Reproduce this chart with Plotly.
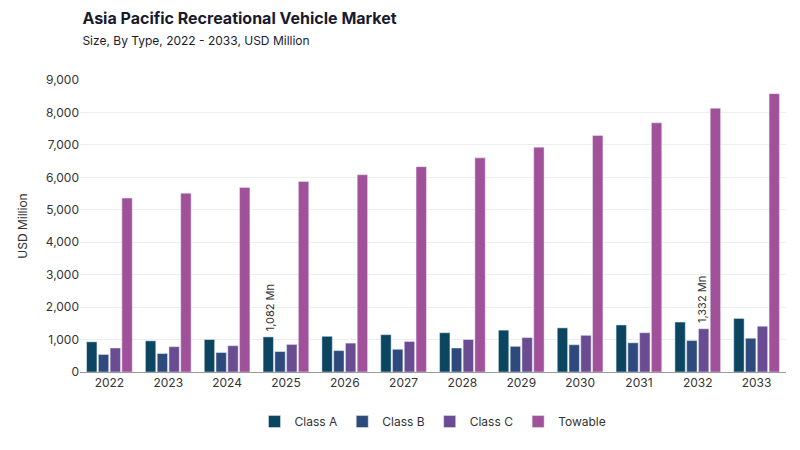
import plotly.graph_objects as go

years = [str(y) for y in range(2022, 2034)]
class_a = [930, 960, 1000, 1082, 1100, 1150, 1210, 1290, 1360, 1450, 1540, 1650]
class_b = [540, 570, 600, 630, 660, 700, 740, 790, 840, 900, 970, 1040]
class_c = [740, 780, 810, 850, 890, 940, 1000, 1060, 1130, 1210, 1332, 1410]
towable = [5360, 5510, 5690, 5870, 6080, 6330, 6600, 6930, 7290, 7680, 8130, 8580]

series = [
    ("Class A", class_a, "#0b4560"),
    ("Class B", class_b, "#2e4a7d"),
    ("Class C", class_c, "#6a4c93"),
    ("Towable", towable, "#a0519a"),
]

fig = go.Figure()
for name, vals, color in series:
    fig.add_trace(go.Bar(x=years, y=vals, name=name, marker_color=color))

# rotated value labels (category index positions)
fig.add_annotation(x=years.index("2025"), y=class_a[3], text="1,082 Mn", textangle=-90,
                   xshift=-16, yanchor="bottom", showarrow=False, yshift=4,
                   font=dict(size=11, color="#333"))
fig.add_annotation(x=years.index("2032"), y=class_c[10], text="1,332 Mn", textangle=-90,
                   xshift=5, yanchor="bottom", showarrow=False, yshift=4,
                   font=dict(size=11, color="#333"))

fig.update_layout(
    width=800, height=450,
    font=dict(family="Inter, sans-serif", color="#333"),
    title=dict(text="<b>Asia Pacific Recreational Vehicle Market</b><br>"
                    "<span style='font-size:12px'>Size, By Type, 2022 - 2033, USD Million</span>",
               x=0.093, y=0.965, yanchor="top", font=dict(size=16, color="#1a1a2e")),
    plot_bgcolor="white", paper_bgcolor="white",
    barmode="group", bargap=0.2, bargroupgap=0.12,
    margin=dict(l=72, r=22, t=72, b=86),
    xaxis=dict(type="category", categoryorder="array", categoryarray=years,
               showline=True, linecolor="#999", tickfont=dict(size=12)),
    yaxis=dict(title=dict(text="USD Million", font=dict(size=12)), range=[0, 9000],
               dtick=1000, tickformat=",", gridcolor="#eeeeee", tickfont=dict(size=12)),
    legend=dict(orientation="h", x=0.5, xanchor="center", y=-0.12, yanchor="top",
                font=dict(size=12)),
)

fig.write_html("out.html")
